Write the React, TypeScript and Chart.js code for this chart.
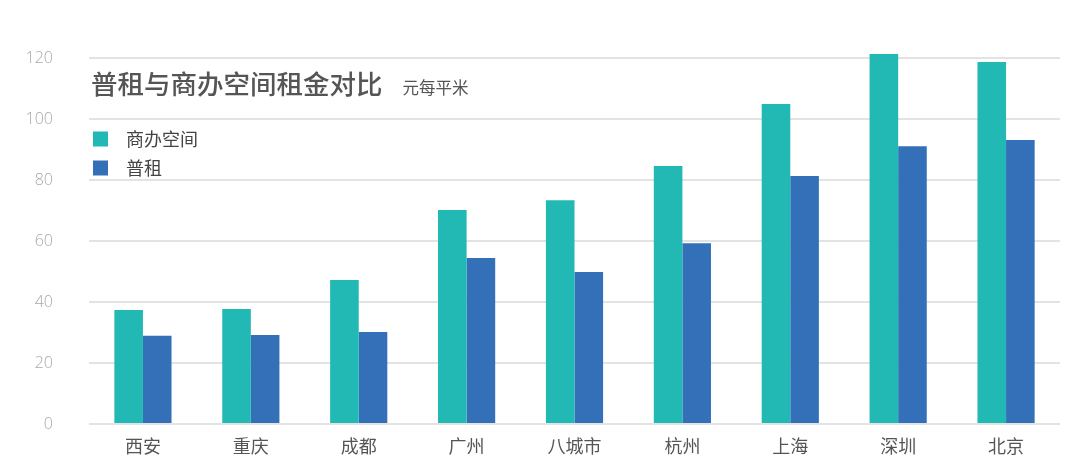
import React, { useEffect, useRef } from "react";
import { Chart, registerables } from "chart.js";

Chart.register(...registerables);

const categories = ["西安", "重庆", "成都", "广州", "八城市", "杭州", "上海", "深圳", "北京"];
const officeValues = [37.4, 37.7, 47.2, 70.2, 73.4, 84.6, 104.9, 121.3, 118.7];
const rentValues = [28.9, 29.2, 30.2, 54.4, 49.8, 59.3, 81.3, 91.1, 93.1];
const seriesNames = ["商办空间", "普租"];
const yTicks = [0, 20, 40, 60, 80, 100, 120];
const titleText = "普租与商办空间租金对比";
const unitText = "元每平米";

const TEAL = "#22b8b4";
const BLUE = "#3370b8";
const CJK = '"Noto Sans CJK SC", "Noto Sans", sans-serif';

const overlayPlugin = {
  id: "overlay",
  afterDraw(chart: any) {
    const ctx = chart.ctx;
    ctx.save();
    ctx.textBaseline = "middle";
    ctx.textAlign = "left";
    ctx.fillStyle = "#555555";
    ctx.font = `500 26.5px ${CJK}`;
    ctx.fillText(titleText, 91, 84);
    const w = ctx.measureText(titleText).width;
    ctx.font = `16.5px ${CJK}`;
    ctx.fillStyle = "#555555";
    ctx.fillText(unitText, 91 + w + 20, 88);
    const ys = [139, 168];
    chart.data.datasets.forEach((ds: any, i: number) => {
      ctx.fillStyle = ds.backgroundColor;
      ctx.fillRect(93, ys[i] - 7.5, 15, 15);
      ctx.fillStyle = "#444444";
      ctx.font = `18px ${CJK}`;
      ctx.fillText(ds.label, 126, ys[i]);
    });
    ctx.restore();
  },
};

export default function App() {
  const ref = useRef<HTMLCanvasElement | null>(null);
  useEffect(() => {
    if (!ref.current) return;
    const chart = new Chart(ref.current, {
      type: "bar",
      data: {
        labels: categories,
        datasets: [
          { label: seriesNames[0], data: officeValues, backgroundColor: TEAL, clip: false },
          { label: seriesNames[1], data: rentValues, backgroundColor: BLUE, clip: false },
        ],
      },
      options: {
        animation: false,
        responsive: false,
        maintainAspectRatio: false,
        layout: { padding: { top: 58, right: 20, left: 0, bottom: 0 } },
        plugins: { legend: { display: false }, tooltip: { enabled: false }, title: { display: false } },
        datasets: { bar: { categoryPercentage: 0.53, barPercentage: 1 } },
        scales: {
          x: {
            grid: { display: false, drawTicks: false },
            border: { display: false },
            ticks: { color: "#555555", font: { size: 18, family: CJK }, padding: 11 },
            afterFit: (s: any) => { s.height = 51; },
          },
          y: {
            min: 0,
            max: 120,
            afterBuildTicks: (s: any) => { s.ticks = yTicks.map((v) => ({ value: v })); },
            grid: { color: "#e3e3e3", lineWidth: 2, drawTicks: false },
            border: { display: false },
            ticks: { color: "#a8a8a8", font: { size: 16, family: '"Open Sans", sans-serif', weight: 300 }, padding: 36 },
            afterFit: (s: any) => { s.width = 89; },
          },
        },
      },
      plugins: [overlayPlugin],
    });
    return () => chart.destroy();
  }, []);
  return (
    <div style={{ position: "fixed", left: 0, top: 0, width: 1080, height: 475, background: "#fff" }}>
      <canvas ref={ref} width={1080} height={475} style={{ width: 1080, height: 475 }} />
    </div>
  );
}
